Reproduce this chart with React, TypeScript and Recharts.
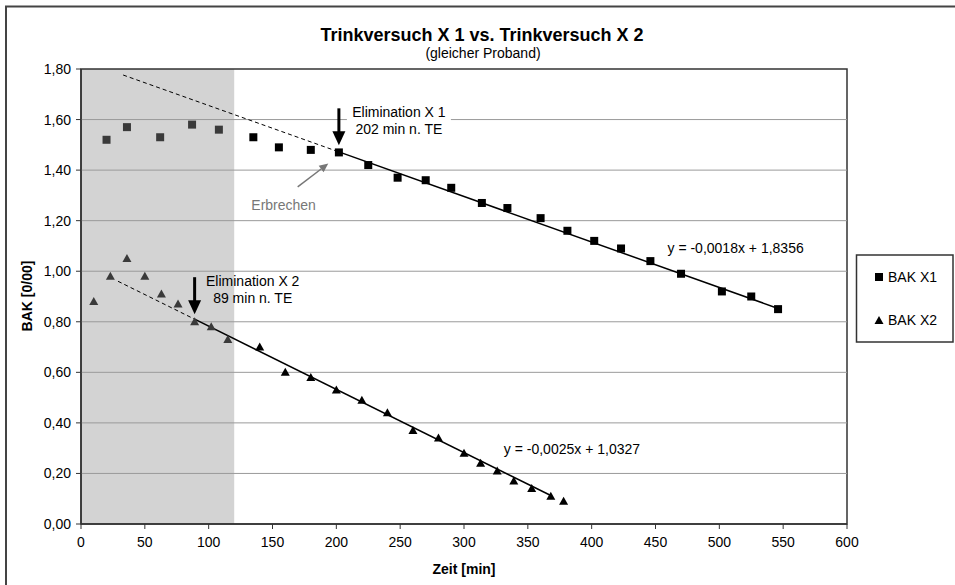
import React from 'react';
import {
  ScatterChart,
  Scatter,
  XAxis,
  YAxis,
  ReferenceArea,
  ReferenceLine,
  ReferenceDot,
} from 'recharts';

// ---- data ----
const x1Times = [20, 36, 62, 87, 108, 135, 155, 180, 202, 225, 248, 270, 290, 314, 334, 360, 381, 402, 423, 446, 470, 502, 525, 546];
const x1Values = [1.52, 1.57, 1.53, 1.58, 1.56, 1.53, 1.49, 1.48, 1.47, 1.42, 1.37, 1.36, 1.33, 1.27, 1.25, 1.21, 1.16, 1.12, 1.09, 1.04, 0.99, 0.92, 0.9, 0.85];
const x2Times = [10, 23, 36, 50, 63, 76, 89, 102, 115, 140, 160, 180, 200, 220, 240, 260, 280, 300, 313, 326, 339, 353, 368, 378];
const x2Values = [0.88, 0.98, 1.05, 0.98, 0.91, 0.87, 0.8, 0.78, 0.73, 0.7, 0.6, 0.58, 0.53, 0.49, 0.44, 0.37, 0.34, 0.28, 0.24, 0.21, 0.17, 0.14, 0.11, 0.09];

const seriesNames = ['BAK X1', 'BAK X2'];
const xTicks = [0, 50, 100, 150, 200, 250, 300, 350, 400, 450, 500, 550, 600];
const yTicks = [0, 0.2, 0.4, 0.6, 0.8, 1.0, 1.2, 1.4, 1.6, 1.8];

// trendlines (regression from the chart)
const trend1 = { slope: -0.0018, intercept: 1.8356, dashFrom: 33, start: 202, end: 546 };
const trend2 = { slope: -0.0025, intercept: 1.0327, dashFrom: 29, start: 89, end: 368 };
const phaseEnd = 120;

const elim1 = { x: 202, tipY: 1.498, label1: 'Elimination X 1', label2: '202 min n. TE', tx: 249, ty: 1.628 };
const elim2 = { x: 89, tipY: 0.83, label1: 'Elimination X 2', label2: '89 min n. TE', tx: 134.5, ty: 0.962 };
const vomit = { label: 'Erbrechen', tx: 158.7, ty: 1.262, tipX: 193.7, tipY: 1.426 };
const eq1 = { text: 'y = -0,0018x + 1,8356', x: 459.4, y: 1.092 };
const eq2 = { text: 'y = -0,0025x + 1,0327', x: 331.2, y: 0.295 };

const data1 = x1Times.map((x, i) => ({ x, y: x1Values[i] }));
const data2 = x2Times.map((x, i) => ({ x, y: x2Values[i] }));

const FONT = '"Liberation Sans", Arial, sans-serif';
const fmt = (v: number) => v.toFixed(2).replace('.', ',');
const tline = (t: typeof trend1, x: number) => ({ x, y: t.slope * x + t.intercept });

const Square = (p: any) => {
  const { cx, cy, payload } = p;
  if (cx == null || cy == null) return null;
  const fill = payload && payload.x < phaseEnd ? '#3a3a3a' : '#000';
  return <rect x={cx - 4} y={cy - 4} width={8} height={8} fill={fill} />;
};
const Triangle = (p: any) => {
  const { cx, cy, payload } = p;
  if (cx == null || cy == null) return null;
  const fill = payload && payload.x < phaseEnd ? '#3a3a3a' : '#000';
  return <polygon points={`${cx},${cy - 4.5} ${cx + 4.5},${cy + 3.5} ${cx - 4.5},${cy + 3.5}`} fill={fill} />;
};

const DownArrow = (p: any) => {
  const { cx, cy } = p;
  return (
    <g>
      <line x1={cx} y1={cy - 37} x2={cx} y2={cy - 12} stroke="#000" strokeWidth={3} />
      <polygon points={`${cx - 6.5},${cy - 14} ${cx + 6.5},${cy - 14} ${cx},${cy}`} fill="#000" />
    </g>
  );
};

const TwoLine = (l1: string, l2: string, bg: boolean) => (p: any) => {
  const { cx, cy } = p;
  return (
    <g>
      {bg && <rect x={cx - 52} y={cy - 8} width={104} height={34} fill="#fff" />}
      <text x={cx} y={cy} dy="0.35em" textAnchor="middle" fontSize={14} fontFamily={FONT} fill="#000">{l1}</text>
      <text x={cx} y={cy + 17} dy="0.35em" textAnchor="middle" fontSize={14} fontFamily={FONT} fill="#000">{l2}</text>
    </g>
  );
};

const PlainText = (txt: string, color: string, anchor: 'start' | 'middle') => (p: any) => {
  const { cx, cy } = p;
  return (
    <text x={cx} y={cy} dy="0.35em" textAnchor={anchor} fontSize={14} fontFamily={FONT} fill={color}>{txt}</text>
  );
};

const GrayArrow = (p: any) => {
  const { cx, cy } = p;
  const dx = -30.6, dy = 23.4;
  const len = Math.sqrt(dx * dx + dy * dy);
  const ux = dx / len, uy = dy / len;
  const hx = cx + ux * 9, hy = cy + uy * 9;
  const px = -uy * 4, py = ux * 4;
  return (
    <g>
      <line x1={cx + dx} y1={cy + dy} x2={hx} y2={hy} stroke="#777" strokeWidth={1.5} />
      <polygon points={`${cx},${cy} ${hx + px},${hy + py} ${hx - px},${hy - py}`} fill="#777" />
    </g>
  );
};

export default function App() {
  return (
    <div style={{ position: 'absolute', left: 0, top: 0, width: 955, height: 585, background: '#fff', fontFamily: FONT }}>
      <ScatterChart width={955} height={585} margin={{ top: 69, right: 108, bottom: 0, left: 0 }} style={{ fontFamily: FONT }}>
        <XAxis
          type="number"
          dataKey="x"
          domain={[0, 600]}
          ticks={xTicks}
          height={61}
          interval={0}
          tickSize={5}
          tickMargin={8}
          axisLine={{ stroke: '#333', strokeWidth: 1.5 }}
          tickLine={{ stroke: '#333' }}
          tick={{ fill: '#000', fontSize: 14, fontFamily: FONT }}
        />
        <YAxis
          type="number"
          dataKey="y"
          domain={[0, 1.8]}
          ticks={yTicks}
          width={81}
          interval={0}
          tickSize={5}
          tickMargin={5}
          tickFormatter={fmt}
          axisLine={{ stroke: '#333', strokeWidth: 1.5 }}
          tickLine={{ stroke: '#333' }}
          tick={{ fill: '#000', fontSize: 14, fontFamily: FONT }}
        />
        <ReferenceArea x1={0} x2={phaseEnd} y1={0} y2={1.8} fill="#d3d3d3" fillOpacity={1} stroke="none" />
        {yTicks.filter((t) => t > 0 && t < 1.8).map((t) => (
          <ReferenceLine key={t} y={t} stroke="#9a9a9a" strokeWidth={1} />
        ))}
        <ReferenceArea x1={0} x2={600} y1={0} y2={1.8} fill="none" stroke="#333" strokeWidth={1.5} />

        <ReferenceLine segment={[tline(trend1, trend1.dashFrom), tline(trend1, trend1.start)]} stroke="#000" strokeWidth={1} strokeDasharray="4 3" />
        <ReferenceLine segment={[tline(trend1, trend1.start), tline(trend1, trend1.end)]} stroke="#000" strokeWidth={1.5} />
        <ReferenceLine segment={[tline(trend2, trend2.dashFrom), tline(trend2, trend2.start)]} stroke="#000" strokeWidth={1} strokeDasharray="4 3" />
        <ReferenceLine segment={[tline(trend2, trend2.start), tline(trend2, trend2.end)]} stroke="#000" strokeWidth={1.5} />

        <Scatter name={seriesNames[0]} data={data1} shape={Square} isAnimationActive={false} />
        <Scatter name={seriesNames[1]} data={data2} shape={Triangle} isAnimationActive={false} />

        <ReferenceDot x={elim1.tx} y={elim1.ty} r={0} shape={TwoLine(elim1.label1, elim1.label2, true)} />
        <ReferenceDot x={elim1.x} y={elim1.tipY} r={0} shape={DownArrow} />
        <ReferenceDot x={elim2.tx} y={elim2.ty} r={0} shape={TwoLine(elim2.label1, elim2.label2, false)} />
        <ReferenceDot x={elim2.x} y={elim2.tipY} r={0} shape={DownArrow} />
        <ReferenceDot x={vomit.tx} y={vomit.ty} r={0} shape={PlainText(vomit.label, '#777', 'middle')} />
        <ReferenceDot x={vomit.tipX} y={vomit.tipY} r={0} shape={GrayArrow} />
        <ReferenceDot x={eq1.x} y={eq1.y} r={0} shape={PlainText(eq1.text, '#000', 'start')} />
        <ReferenceDot x={eq2.x} y={eq2.y} r={0} shape={PlainText(eq2.text, '#000', 'start')} />
      </ScatterChart>

      <svg width={955} height={585} style={{ position: 'absolute', left: 0, top: 0, pointerEvents: 'none' }}>
        <rect x={6} y={6.5} width={960} height={600} fill="none" stroke="#444" strokeWidth={2} />
        <text x={482} y={35} textAnchor="middle" dominantBaseline="central" fontSize={18} fontWeight="bold" fontFamily={FONT} fill="#000">
          Trinkversuch X 1 vs. Trinkversuch X 2
        </text>
        <text x={483} y={53} textAnchor="middle" dominantBaseline="central" fontSize={14} fontFamily={FONT} fill="#000">
          (gleicher Proband)
        </text>
        <text x={27} y={296} textAnchor="middle" dominantBaseline="central" fontSize={14} fontWeight="bold" fontFamily={FONT} fill="#000" transform="rotate(-90 27 296)">
          BAK [0/00]
        </text>
        <text x={464} y={569} textAnchor="middle" dominantBaseline="central" fontSize={14} fontWeight="bold" fontFamily={FONT} fill="#000">
          Zeit [min]
        </text>
        <rect x={856.5} y={255} width={96.5} height={87} fill="#fff" stroke="#333" strokeWidth={1.5} />
        <rect x={875} y={273} width={8} height={8} fill="#000" />
        <text x={888} y={277} dominantBaseline="central" fontSize={14} fontFamily={FONT} fill="#000">{seriesNames[0]}</text>
        <polygon points="879,316 883.5,324 874.5,324" fill="#000" />
        <text x={888} y={320} dominantBaseline="central" fontSize={14} fontFamily={FONT} fill="#000">{seriesNames[1]}</text>
      </svg>
    </div>
  );
}
